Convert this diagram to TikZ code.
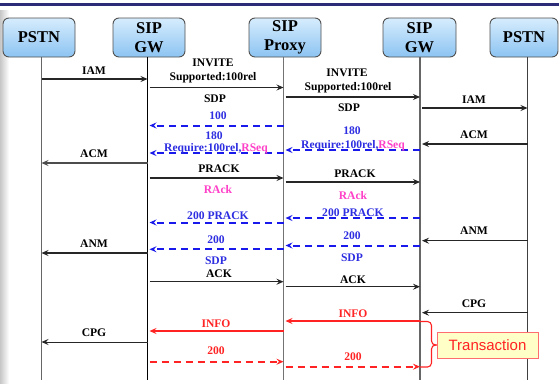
\documentclass[tikz,border=0pt]{standalone}
\usepackage{fontspec}
\setmainfont{Liberation Serif}
\newfontfamily\arialf{Liberation Sans}
\usetikzlibrary{arrows.meta,calc}
\definecolor{navybar}{RGB}{43,43,120}
\definecolor{boxtop}{RGB}{214,236,253}
\definecolor{boxbot}{RGB}{140,196,242}
\definecolor{boxline}{RGB}{80,80,80}
\definecolor{dblue}{RGB}{25,25,235}
\definecolor{tblue}{RGB}{45,45,225}
\definecolor{pinkc}{RGB}{255,64,200}
\definecolor{redc}{RGB}{255,35,35}
\definecolor{tyellow}{RGB}{255,255,200}
\definecolor{tborder}{RGB}{255,110,110}
\begin{document}
\begin{tikzpicture}[x=1pt,y=-1pt,
  actor/.style={draw=boxline, line width=0.9pt, rounded corners=6pt,
    top color=boxtop, bottom color=boxbot, minimum height=39pt,
    inner sep=0pt, align=center,
    font=\bfseries\fontsize{16.5}{19}\selectfont},
  life/.style={line width=1pt},
  tip/.style={-{Stealth[length=7pt,width=6pt,inset=2.5pt]}},
  msg/.style={tip, line width=1.2pt, black!85},
  bdash/.style={tip, line width=2pt, dblue, dash pattern=on 7pt off 5pt},
  rmsg/.style={tip, line width=1.2pt, redc},
  rdash/.style={tip, line width=1.8pt, redc, dash pattern=on 7pt off 5pt},
  lbl/.style={inner sep=0pt, text height=7.6pt, text depth=0pt,
    font=\bfseries\fontsize{11.6}{12}\selectfont},
  blbl/.style={lbl, text=tblue},
  plbl/.style={lbl, text=pinkc},
  rlbl/.style={lbl, text=redc}
]
\useasboundingbox (0,0) rectangle (559,383);
\fill[white] (0,0) rectangle (559,383);
% header bar and left shadow
\fill[navybar] (0,2.7) rectangle (559,6);
\shade[left color=black!22, right color=white] (0,10) rectangle (9,383);

% actors
\node[actor, minimum width=72pt] (pstnA) at (39,37.5) {PSTN};
\node[actor, minimum width=72pt] (gwA) at (149,37.5) {SIP\\GW};
\node[actor, minimum width=72pt] (proxy) at (285,37.5) {SIP\\Proxy};
\node[actor, minimum width=73pt] (gwB) at (419.5,37.5) {SIP\\GW};
\node[actor, minimum width=68pt] (pstnB) at (524,37.5) {PSTN};

% lifelines
\coordinate (t1) at (41.5,57);  \coordinate (b1) at (41.5,380);
\coordinate (t2) at (147.5,57); \coordinate (b2) at (147.5,380);
\coordinate (t3) at (283.5,57); \coordinate (b3) at (283.5,380);
\coordinate (t4) at (420,57);   \coordinate (b4) at (420,380);
\coordinate (t5) at (527.5,57); \coordinate (b5) at (527.5,380);
\draw[life, black!60, line width=1.3pt] (t1) -- (b1);
\draw[life, black] (t2) -- (b2);
\draw[life, black!55] (t3) -- (b3);
\draw[life, black!60, line width=1.2pt] (t4) -- (b4);
\draw[life, black!75] (t5) -- (b5);

% ---- PSTN A <-> GW A
\draw[msg] (t1 |- 0,79) -- (t2 |- 0,79);
\node[lbl] (l1) at (94,71) {IAM};
\draw[msg, line width=2pt, black!70] (t2 |- 0,163) -- (t1 |- 0,163);
\node[lbl] (l2) at (94,154) {ACM};
\draw[msg, line width=1.4pt] (t2 |- 0,253) -- (t1 |- 0,253);
\node[lbl] (l3) at (94,243.5) {ANM};
\draw[msg, line width=1pt] (t2 |- 0,342) -- (t1 |- 0,342);
\node[lbl] (l4) at (94,333) {CPG};

% ---- GW A <-> Proxy
\draw[msg] ([xshift=2pt]t2 |- 0,87.5) -- (t3 |- 0,87.5);
\node[lbl] (a1) at (213,62.5) {INVITE};
\node[lbl] (a2) at (213,77) {Supported:100rel};
\node[lbl] (a3) at (215,98.5) {SDP};
\draw[bdash] (t3 |- 0,125.5) -- ([xshift=2pt]t2 |- 0,125.5);
\node[blbl] (a4) at (218,115.5) {100};
\draw[bdash] (t3 |- 0,153) -- ([xshift=2pt]t2 |- 0,153);
\node[blbl] (a5) at (214,136) {180};
\node[blbl] (a6) at (216,147.5) {Require:100rel,\textcolor{pinkc}{RSeq}};
\draw[msg] ([xshift=2pt]t2 |- 0,178) -- (t3 |- 0,178);
\node[lbl] (a7) at (219,168.5) {PRACK};
\node[plbl] (a8) at (218,189.5) {RAck};
\draw[bdash] (t3 |- 0,222.5) -- ([xshift=2pt]t2 |- 0,222.5);
\node[blbl] (a9) at (218,216) {200 PRACK};
\draw[bdash] (t3 |- 0,249.3) -- ([xshift=2pt]t2 |- 0,249.3);
\node[blbl] (a10) at (216,240) {200};
\node[blbl] (a11) at (216,260.7) {SDP};
\draw[msg] ([xshift=2pt]t2 |- 0,281.7) -- (t3 |- 0,281.7);
\node[lbl] (a12) at (219,273.5) {ACK};
\draw[rmsg] (t3 |- 0,331) -- ([xshift=2pt]t2 |- 0,331);
\node[rlbl] (a13) at (216,323.3) {INFO};
\draw[rdash] ([xshift=2pt]t2 |- 0,361.7) -- (t3 |- 0,361.7);
\node[rlbl] (a14) at (216,351) {200};

% ---- Proxy <-> GW B
\draw[msg] ([xshift=2pt]t3 |- 0,97) -- (t4 |- 0,97);
\node[lbl] (c1) at (347,72.5) {INVITE};
\node[lbl] (c2) at (348,86.5) {Supported:100rel};
\node[lbl] (c3) at (349,107.7) {SDP};
\draw[bdash] (t4 |- 0,150) -- ([xshift=2pt]t3 |- 0,150);
\node[blbl] (c4) at (352,131) {180};
\node[blbl] (c5) at (353,145) {Require:100rel,\textcolor{pinkc}{RSeq}};
\draw[msg] ([xshift=2pt]t3 |- 0,182) -- (t4 |- 0,182);
\node[lbl] (c6) at (355,174) {PRACK};
\node[plbl] (c7) at (353,196) {RAck};
\draw[bdash] (t4 |- 0,218) -- ([xshift=2pt]t3 |- 0,218);
\node[blbl] (c8) at (353,212.5) {200 PRACK};
\draw[bdash] (t4 |- 0,245.5) -- ([xshift=2pt]t3 |- 0,245.5);
\node[blbl] (c9) at (352,236) {200};
\node[blbl] (c10) at (352,257.3) {SDP};
\draw[msg] ([xshift=2pt]t3 |- 0,286.7) -- (t4 |- 0,286.7);
\node[lbl] (c11) at (353,279.3) {ACK};
\draw[rmsg] (t4 |- 0,321) -- ([xshift=2pt]t3 |- 0,321);
\node[rlbl] (c12) at (353,313.3) {INFO};
\draw[rdash] ([xshift=2pt]t3 |- 0,366.7) -- (t4 |- 0,366.7);
\node[rlbl] (c13) at (353,356.7) {200};

% ---- GW B <-> PSTN B
\draw[msg] ([xshift=2pt]t4 |- 0,108) -- (t5 |- 0,108);
\node[lbl] (d1) at (474,100) {IAM};
\draw[msg] (t5 |- 0,144) -- ([xshift=2pt]t4 |- 0,144);
\node[lbl] (d2) at (474,134.5) {ACM};
\draw[msg] (t5 |- 0,240.7) -- ([xshift=2pt]t4 |- 0,240.7);
\node[lbl] (d3) at (474,231) {ANM};
\draw[msg] (t5 |- 0,312.7) -- ([xshift=2pt]t4 |- 0,312.7);
\node[lbl] (d4) at (474,303.3) {CPG};

% ---- transaction brace and box
\node[draw=tborder, line width=1pt, fill=tyellow, minimum width=101pt,
  minimum height=26pt, inner sep=0pt, text=redc,
  font=\arialf\fontsize{15}{16}\selectfont] (trans) at (487.5,345) {Transaction};
\draw[redc, line width=1.1pt, rounded corners=4pt]
  (t4 |- 0,321.5) -- (431.5,321.5) -- (431.5,345) -- (trans.west);
\draw[redc, line width=1.1pt, rounded corners=4pt]
  (trans.west) -- (431.5,345) -- (431.5,367) -- (t4 |- 0,367);
\end{tikzpicture}
\end{document}
